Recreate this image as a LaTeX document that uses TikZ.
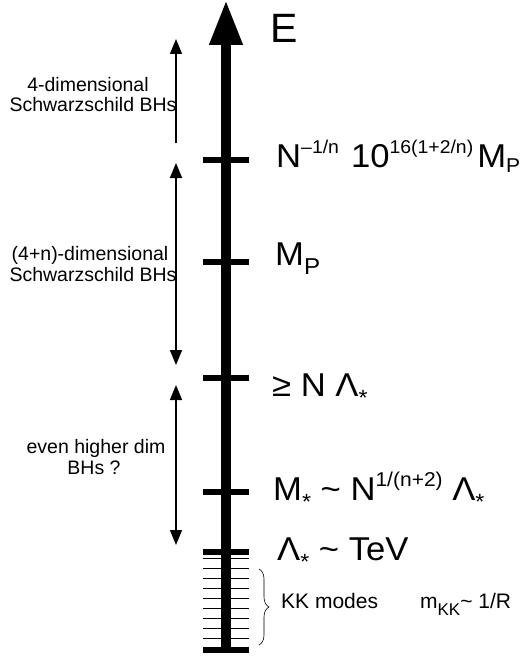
\documentclass[tikz,border=0pt]{standalone}
\usepackage{fontspec}
\setmainfont{Liberation Sans}
\newfontfamily\widefam{Liberation Sans}[FakeStretch=1.05]
\usetikzlibrary{arrows.meta,decorations.pathreplacing}

\newcommand\bigf{\widefam\fontsize{33}{38}\selectfont}
\newcommand\ef{\fontsize{41}{46}\selectfont}
\newcommand\smf{\fontsize{19.5}{21}\selectfont}
\newcommand\kkf{\fontsize{21}{25}\selectfont}
\newcommand\hsup[1]{\raisebox{14pt}{\fontsize{20}{20}\selectfont #1}}
\newcommand\tsup[1]{\raisebox{14pt}{\fontsize{18.5}{19}\selectfont #1}}
\newcommand\hsub[3]{\raisebox{-#1}{\fontsize{#2}{#2}\selectfont #3}}
\newcommand\lstar{\raisebox{-9.5pt}{\fontsize{22}{22}\selectfont *}}

\begin{document}
\begin{tikzpicture}[x=1pt,y=-1pt,
  axisline/.style={line width=10pt,-{Triangle[width=31pt,length=45pt]}},
  tickmark/.style={line width=6pt},
  kkline/.style={line width=1pt},
  spanarrow/.style={line width=1.6pt},
  tipa/.style={-{Triangle[width=12pt,length=15pt]}},
  tipb/.style={{Triangle[width=12pt,length=15pt]}-{Triangle[width=12pt,length=15pt]}},
  lbl/.style={anchor=base west,inner sep=0pt,font=\bigf},
  side/.style={anchor=base,inner sep=0pt,font=\smf}]
\useasboundingbox (0,0) rectangle (525,658);

% main energy axis
\coordinate (a0) at (226,653);
\coordinate (a1) at (226,0);
\draw[axisline] (a0) -- (a1);

% ticks
\foreach \y/\n in {160/t1,262/t2,378/t3,492/t4,552/t5,650/t6}{
  \coordinate (\n l) at (203,\y);
  \coordinate (\n r) at (249,\y);
  \draw[tickmark] (\n l) -- (\n r);
}
% KK mode lines
\foreach \i in {0,...,8}{
  \coordinate (k\i l) at (203,558.3+10*\i);
  \coordinate (k\i r) at (249,558.3+10*\i);
  \draw[kkline] (k\i l) -- (k\i r);
}

% labels
\node[lbl,font=\ef] (E) at (270,43) {E};
\node[lbl] (L1) at (276,167) {N\tsup{–1/n}\hspace{12pt}10\tsup{16(1+2/n)}\hspace{4pt}M\hsub{5pt}{20}{P}};
\node[lbl] (L2) at (275,265) {M\hsub{9pt}{23}{P}};
\node[lbl] (L3) at (272,396) {≥ N Λ\lstar};
\node[lbl] (L4) at (273,500) {M\lstar{} \textasciitilde{} N\hsup{1/(n+2)} Λ\lstar};
\node[lbl] (L5) at (277,560) {Λ\lstar{} \textasciitilde{} TeV};

% side arrows
\coordinate (s1a) at (176,143);
\coordinate (s1b) at (176,39);
\draw[spanarrow,tipa] (s1a) -- (s1b);
\coordinate (s2a) at (176,163);
\coordinate (s2b) at (176,365);
\draw[spanarrow,tipb] (s2a) -- (s2b);
\coordinate (s3a) at (176,385);
\coordinate (s3b) at (176,545);
\draw[spanarrow,tipb] (s3a) -- (s3b);

% side labels
\node[side] (d1a) at (88,92) {4-dimensional};
\node[side] (d1b) at (93,112) {Schwarzschild BHs};
\node[side] (d2a) at (90,260) {(4+n)-dimensional};
\node[side] (d2b) at (93,281) {Schwarzschild BHs};
\node[side] (d3a) at (96,453) {even higher dim};
\node[side] (d3b) at (94,474) {BHs ?};

% KK brace
\coordinate (b1) at (259,569);
\coordinate (b2) at (259,645);
\draw[line width=0.6pt,decorate,decoration={brace,amplitude=10pt}] (b1) -- (b2);
\node[anchor=base west,inner sep=0pt,font=\kkf] (KK) at (281,608)
  {KK modes\hspace{42pt}m\raisebox{-7pt}{\fontsize{17}{17}\selectfont KK}\textasciitilde{} 1/R};
\end{tikzpicture}
\end{document}
